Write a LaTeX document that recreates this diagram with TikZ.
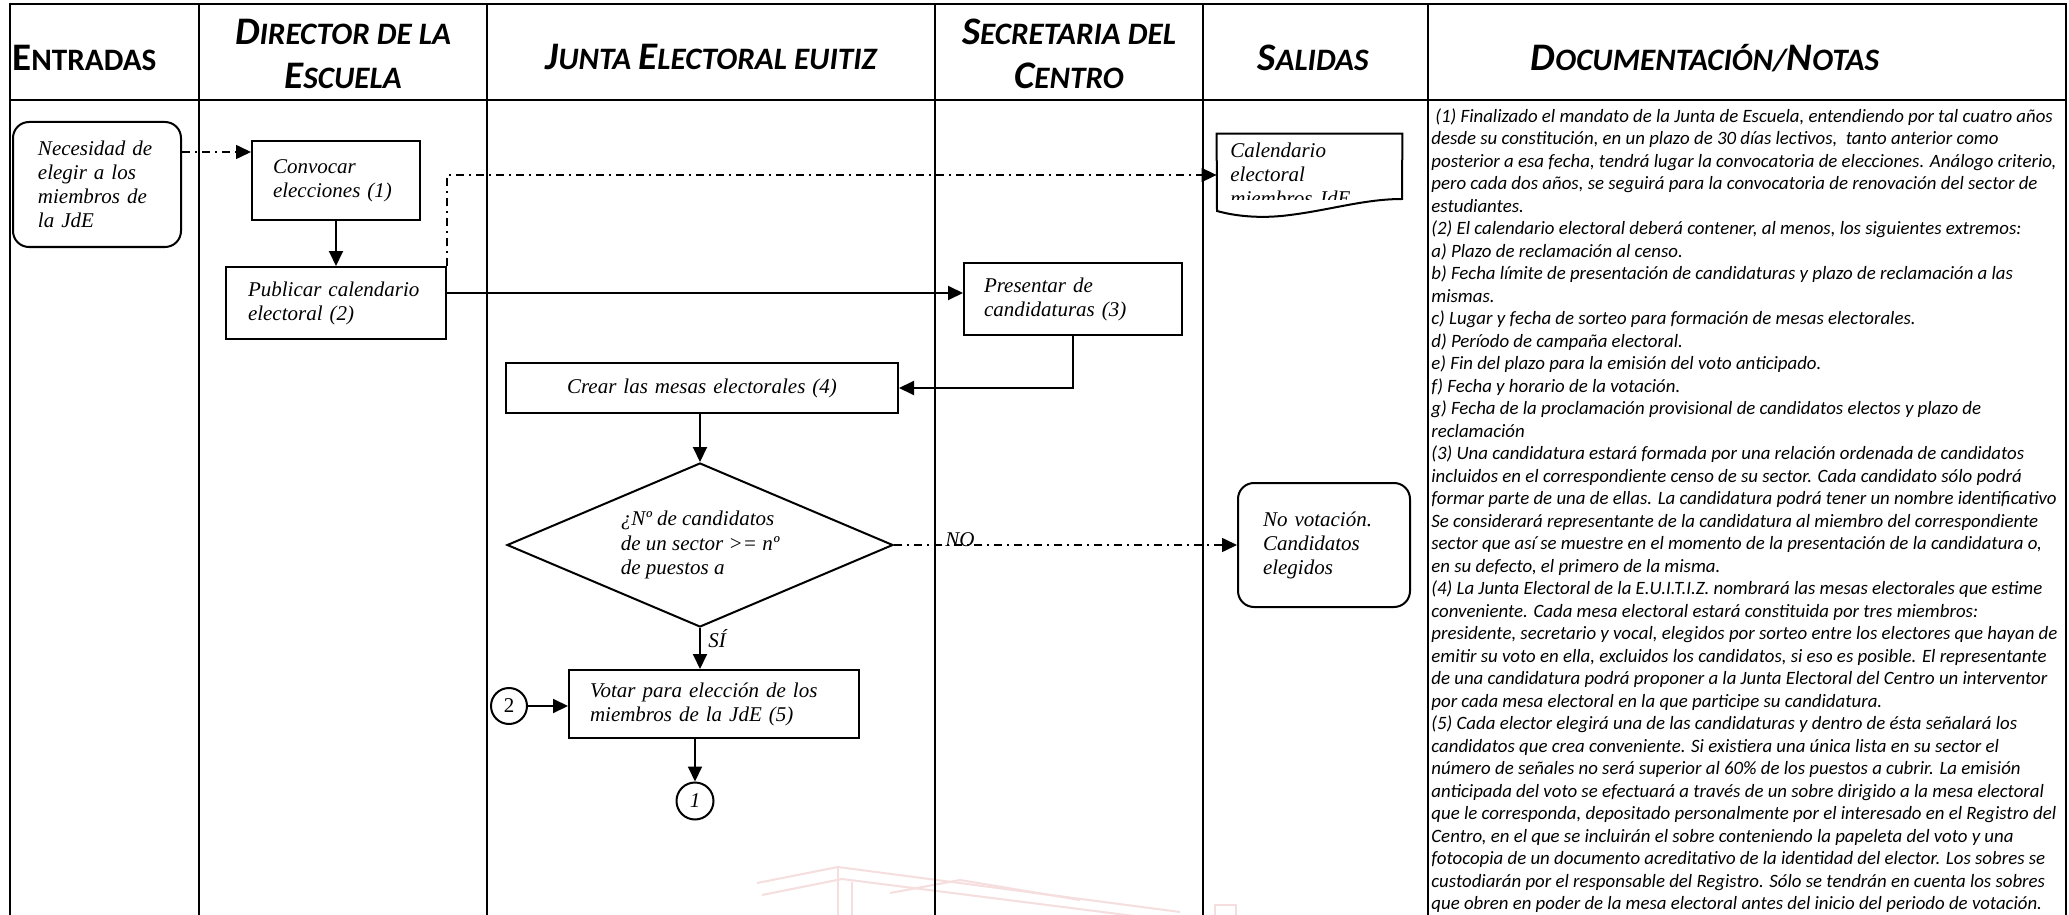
\documentclass[tikz,border=0pt]{standalone}
\usepackage{fontspec}
\setmainfont{Liberation Serif}
\newfontfamily\calfont{Carlito}
\usetikzlibrary{arrows.meta,shapes.geometric}
\newcommand\hb[1]{{\fontsize{19.5}{22}\selectfont #1}}
\newcommand\hs[1]{{\fontsize{15.6}{22}\selectfont #1}}
\newcommand\flowf{\fontsize{10.5}{12}\selectfont\itshape}
\definecolor{wm}{RGB}{246,222,222}
\begin{document}
\begin{tikzpicture}[x=0.5pt,y=-0.5pt,
  lane/.style={line width=1.4pt},
  box/.style={draw, line width=1pt, font=\flowf, align=left, inner ysep=0pt},
  conn/.style={line width=1pt, -{Triangle[length=7.5pt,width=7pt]}},
  dd/.style={line width=0.8pt, dash pattern=on 4pt off 2.5pt on 1pt off 2.5pt, -{Triangle[length=7.5pt,width=7pt]}},
  hdr/.style={font=\calfont\bfseries\itshape\fontsize{15.6}{22}\selectfont, align=center, inner sep=0pt},
  lbl/.style={font=\flowf, inner sep=0pt},
  circ/.style={draw, circle, line width=1pt, font=\flowf, inner sep=0pt}]
\useasboundingbox (0,0) rectangle (2069,915);
\clip (0,0) rectangle (2069,915);
\fill[white] (0,0) rectangle (2069,915);
% watermark
\begin{scope}[wm, line width=1pt]
\draw (757,883) -- (838,867) -- (1180,912);
\draw (762,895) -- (842,879) -- (1150,918);
\draw (838,867) -- (838,920);
\draw (852,882) -- (852,920);
\draw (890,893) -- (960,880) -- (1080,900);
\draw (1215,905) rectangle (1236,920);
\end{scope}
% frame and lanes
\draw[lane] (10,930) -- (10,4) -- (2066,4) -- (2066,930);
\draw[lane] (10,100) -- (2066,100);
\foreach \xx in {199,487,935,1203,1428} \draw[lane] (\xx,4) -- (\xx,930);
% headers
\node[hdr, anchor=west] (h1) at (12,58) {\upshape\hb{E}\hs{NTRADAS}};
\node[hdr] (h2) at (343,54) {\hb{D}\hs{IRECTOR DE LA}\\\hb{E}\hs{SCUELA}};
\node[hdr] (h3) at (711,57) {\hb{J}\hs{UNTA} \hb{E}\hs{LECTORAL EUITIZ}};
\node[hdr] (h4) at (1069,54) {\hb{S}\hs{ECRETARIA DEL}\\\hb{C}\hs{ENTRO}};
\node[hdr] (h5) at (1313,58) {\hb{S}\hs{ALIDAS}};
\node[hdr] (h6) at (1705,58) {\hb{D}\hs{OCUMENTACIÓN}/\hb{N}\hs{OTAS}};
% notes
\node[anchor=north west, inner sep=0pt, align=left, font=\calfont\itshape\fontsize{9.42}{11.25}\selectfont] (notes) at (1431,108) {%
\hspace{2pt}(1) Finalizado el mandato de la Junta de Escuela, entendiendo por tal cuatro años\\
desde su constitución, en un plazo de 30 días lectivos,\ \ tanto anterior como\\
posterior a esa fecha, tendrá lugar la convocatoria de elecciones. Análogo criterio,\\
pero cada dos años, se seguirá para la convocatoria de renovación del sector de\\
estudiantes.\\
(2) El calendario electoral deberá contener, al menos, los siguientes extremos:\\
a) Plazo de reclamación al censo.\\
b) Fecha límite de presentación de candidaturas y plazo de reclamación a las\\
mismas.\\
c) Lugar y fecha de sorteo para formación de mesas electorales.\\
d) Período de campaña electoral.\\
e) Fin del plazo para la emisión del voto anticipado.\\
f) Fecha y horario de la votación.\\
g) Fecha de la proclamación provisional de candidatos electos y plazo de\\
reclamación\\
(3) Una candidatura estará formada por una relación ordenada de candidatos\\
incluidos en el correspondiente censo de su sector. Cada candidato sólo podrá\\
formar parte de una de ellas. La candidatura podrá tener un nombre identificativo\\
Se considerará representante de la candidatura al miembro del correspondiente\\
sector que así se muestre en el momento de la presentación de la candidatura o,\\
en su defecto, el primero de la misma.\\
(4) La Junta Electoral de la E.U.I.T.I.Z. nombrará las mesas electorales que estime\\
conveniente. Cada mesa electoral estará constituida por tres miembros:\\
presidente, secretario y vocal, elegidos por sorteo entre los electores que hayan de\\
emitir su voto en ella, excluidos los candidatos, si eso es posible. El representante\\
de una candidatura podrá proponer a la Junta Electoral del Centro un interventor\\
por cada mesa electoral en la que participe su candidatura.\\
(5) Cada elector elegirá una de las candidaturas y dentro de ésta señalará los\\
candidatos que crea conveniente. Si existiera una única lista en su sector el\\
número de señales no será superior al 60\% de los puestos a cubrir. La emisión\\
anticipada del voto se efectuará a través de un sobre dirigido a la mesa electoral\\
que le corresponda, depositado personalmente por el interesado en el Registro del\\
Centro, en el que se incluirán el sobre conteniendo la papeleta del voto y una\\
fotocopia de un documento acreditativo de la identidad del elector. Los sobres se\\
custodiarán por el responsable del Registro. Sólo se tendrán en cuenta los sobres\\
que obren en poder de la mesa electoral antes del inicio del periodo de votación.};
% flow nodes
\node[box, rounded corners=8pt, minimum width=84pt, minimum height=62.5pt, text width=59pt, inner xsep=12.5pt] (nec) at (97,184.5) {Necesidad de\\elegir a los\\miembros de\\la JdE};
\node[box, minimum width=84pt, minimum height=39.5pt, text width=63pt, inner xsep=10.5pt] (conv) at (336,180.5) {Convocar\\elecciones (1)};
\node[box, minimum width=110pt, minimum height=36pt, text width=88pt, inner xsep=11pt] (pub) at (336,303) {Publicar calendario\\electoral (2)};
\node[box, minimum width=109pt, minimum height=36pt, text width=89pt, inner xsep=10pt] (pres) at (1073,299) {Presentar de\\candidaturas (3)};
\node[box, align=center, minimum width=196pt, minimum height=25pt, text width=176pt, inner xsep=10pt] (crear) at (702,388) {Crear las mesas electorales (4)};
\node[draw, line width=1pt, diamond, shape aspect=2.35, minimum width=193pt, minimum height=82pt, inner sep=0pt, align=left, font=\fontsize{10.5}{12.2}\selectfont\itshape] (dia) at (700,545) {¿Nº de candidatos\\de un sector >= nº\\de puestos a};
\node[box, rounded corners=8pt, minimum width=86pt, minimum height=62pt, text width=61pt, inner xsep=12.5pt] (novot) at (1324,545) {No votación.\\Candidatos\\elegidos};
\node[box, minimum width=145pt, minimum height=34pt, text width=124pt, inner xsep=10.5pt] (vot) at (714,704) {Votar para elección de los\\miembros de la JdE (5)};
\node[circ, minimum size=18pt] (c2) at (509,706) {\upshape 2};
\node[circ, minimum size=18.5pt] (c1) at (695,801) {1};
% document shape
\node[minimum width=92.5pt, minimum height=41pt, inner sep=0pt] (cal) at (1309.5,175) {};
\draw[line width=1pt] (cal.north west) -- (cal.north east) -- (1402,199) .. controls (1365,199) and (1330,210) .. (1290,215) .. controls (1260,219) and (1235,216) .. (1217,211) -- cycle;
\begin{scope}
\clip (1217,134) rectangle (1402,200);
\node[anchor=north west, inner sep=0pt, align=left, font=\fontsize{10.5}{12}\selectfont\itshape] (caltxt) at (1230,143) {Calendario\\electoral\\miembros JdE};
\end{scope}
% connectors
\draw[dd] ([yshift=16.25pt]nec.east) -- ([yshift=16.25pt]nec.east -| conv.west);
\draw[conn] (conv.south) -- (conv.south |- pub.north);
\draw[dd] (pub.north east) |- (cal.west);
\draw[conn] ([yshift=5pt]pub.east) -- ([yshift=5pt]pub.east -| pres.west);
\draw[conn] (pres.south) |- (crear.east);
\draw[conn] (crear.south -| dia.north) -- (dia.north);
\draw[dd] (dia.east) -- (novot.west);
\node[lbl, anchor=base west] (no) at (945,546) {NO};
\draw[conn] (dia.south) -- (dia.south |- vot.north);
\node[lbl, anchor=base west] (si) at (708,647) {SÍ};
\draw[conn] (c2.east) -- (c2.east -| vot.west);
\draw[conn] (vot.south -| c1.north) -- (c1.north);
\end{tikzpicture}
\end{document}
